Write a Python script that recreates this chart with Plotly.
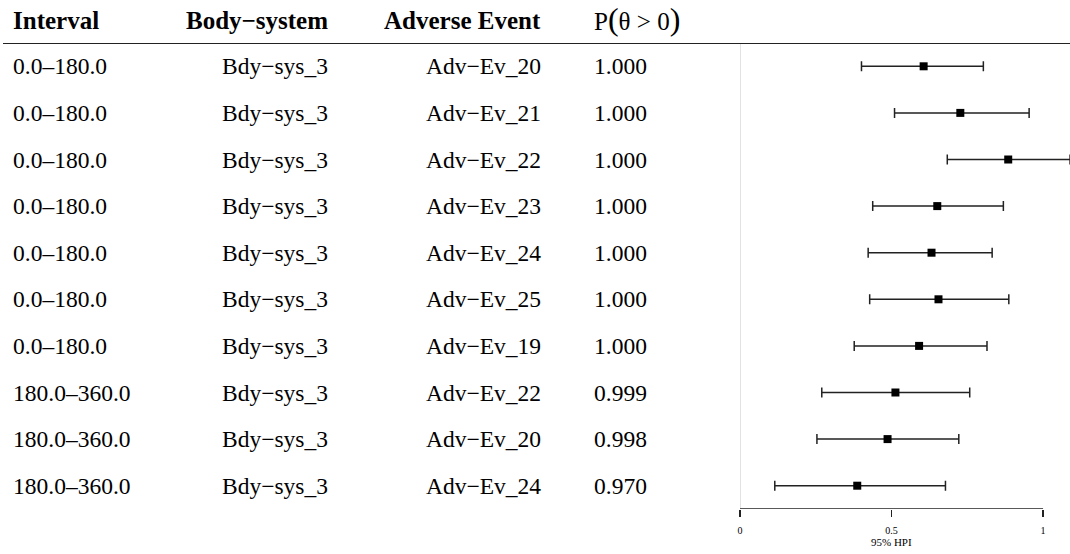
import plotly.graph_objects as go

intervals = ["0.0–180.0"] * 7 + ["180.0–360.0"] * 3
body_systems = ["Bdy−sys_3"] * 10
adverse_events = ["Adv−Ev_20", "Adv−Ev_21", "Adv−Ev_22", "Adv−Ev_23", "Adv−Ev_24",
                  "Adv−Ev_25", "Adv−Ev_19", "Adv−Ev_22", "Adv−Ev_20", "Adv−Ev_24"]
prob_pos = ["1.000", "1.000", "1.000", "1.000", "1.000", "1.000", "1.000", "0.999", "0.998", "0.970"]
estimate = [0.606, 0.727, 0.885, 0.651, 0.632, 0.655, 0.591, 0.513, 0.487, 0.387]
hpi_lower = [0.401, 0.510, 0.684, 0.438, 0.423, 0.428, 0.377, 0.270, 0.254, 0.115]
hpi_upper = [0.803, 0.954, 1.089, 0.869, 0.832, 0.887, 0.815, 0.758, 0.722, 0.678]
headers = ["Interval", "Body−system", "Adverse Event"]
x_ticks = [0, 0.5, 1]
x_ticktext = ["0", "0.5", "1"]

W, H = 1070, 554
FONT = "Liberation Serif"
rows = list(range(len(estimate)))

fig = go.Figure()
fig.add_trace(go.Scatter(
    x=estimate, y=rows, mode="markers",
    marker=dict(symbol="square", size=8, color="black"),
    error_x=dict(type="data", symmetric=False,
                 array=[u - e for u, e in zip(hpi_upper, estimate)],
                 arrayminus=[e - l for e, l in zip(estimate, hpi_lower)],
                 width=5, thickness=1.5, color="#222"),
    showlegend=False, cliponaxis=True, hoverinfo="skip",
))

COL_INT_L, COL_BODY_R, COL_AE_R, COL_P_L = 10, 326, 540, 593

ann = []
val_font = dict(family=FONT, size=23.5, color="black")
hdr_font = dict(family=FONT, size=25, color="black")
common = dict(showarrow=False, yanchor="middle", borderpad=0, borderwidth=0)
for i in rows:
    ann.append(dict(x=COL_INT_L / W, y=i, xref="paper", yref="y", text=intervals[i],
                    xanchor="left", font=val_font, **common))
    ann.append(dict(x=COL_BODY_R / W, y=i, xref="paper", yref="y", text=body_systems[i],
                    xanchor="right", font=val_font, **common))
    ann.append(dict(x=COL_AE_R / W, y=i, xref="paper", yref="y", text=adverse_events[i],
                    xanchor="right", font=val_font, **common))
    ann.append(dict(x=COL_P_L / W, y=i, xref="paper", yref="y", text=prob_pos[i],
                    xanchor="left", font=val_font, **common))

hy = (H - 21) / H
ann.append(dict(x=COL_INT_L / W, y=hy, xref="paper", yref="paper", text="<b>" + headers[0] + "</b>",
                xanchor="left", font=hdr_font, **common))
ann.append(dict(x=COL_BODY_R / W, y=hy, xref="paper", yref="paper", text="<b>" + headers[1] + "</b>",
                xanchor="right", font=hdr_font, **common))
ann.append(dict(x=COL_AE_R / W, y=hy, xref="paper", yref="paper", text="<b>" + headers[2] + "</b>",
                xanchor="right", font=hdr_font, **common))
ann.append(dict(x=COL_P_L / W, y=(H - 19) / H, xref="paper", yref="paper",
                text="P<span style='font-size:32px'>(</span>θ > 0<span style='font-size:32px'>)</span>",
                xanchor="left", font=hdr_font, **common))
ann.append(dict(x=0.5, y=(H - 542) / H, xref="x", yref="paper", text="95% HPI",
                xanchor="center", font=dict(family=FONT, size=11, color="black"), **common))

x0_px = 739
scale = 304.0
xmax = (W - x0_px) / scale
y_top_px, y_bot_px = 43, 509

shapes = [
    dict(type="line", xref="paper", yref="y", x0=0, x1=1, y0=-0.5, y1=-0.5,
         line=dict(color="#222", width=2)),
    dict(type="line", xref="x", yref="y", x0=0, x1=0, y0=-0.5, y1=9.5,
         line=dict(color="#d4d4d4", width=1.5), layer="below"),
    dict(type="line", xref="x", yref="y", x0=0, x1=1, y0=9.5, y1=9.5,
         line=dict(color="#222", width=1.5)),
]

fig.update_layout(
    width=W, height=H,
    margin=dict(l=0, r=0, t=0, b=0),
    paper_bgcolor="white", plot_bgcolor="white",
    font=dict(family=FONT, color="black"),
    xaxis=dict(domain=[x0_px / W, 1], range=[0, xmax], showgrid=False, zeroline=False,
               showline=False, ticks="outside", ticklen=7, tickwidth=1.5, tickcolor="#222",
               tickvals=x_ticks, ticktext=x_ticktext, ticklabelstandoff=5,
               tickfont=dict(family=FONT, size=10, color="black")),
    yaxis=dict(domain=[(H - y_bot_px) / H, (H - y_top_px) / H], range=[9.5, -0.5],
               showgrid=False, zeroline=False, showline=False, showticklabels=False,
               ticks=""),
    annotations=ann, shapes=shapes,
)

fig.write_html("out.html", config={"displayModeBar": False, "staticPlot": True},
               post_script="document.body.style.margin='0';document.body.style.overflow='hidden';")
